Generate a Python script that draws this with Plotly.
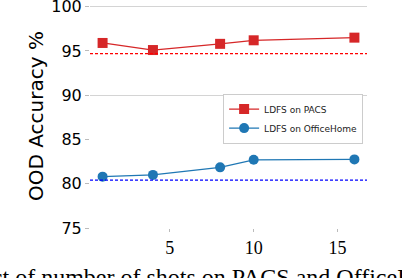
import plotly.graph_objects as go

shots = [1, 4, 8, 10, 16]
pacs_acc = [95.9, 95.1, 95.8, 96.2, 96.5]
office_acc = [80.8, 81.0, 81.85, 82.7, 82.75]
pacs_baseline = 94.7
office_baseline = 80.4
y_ticks = [75, 80, 85, 90, 95, 100]
x_ticks = [5, 10, 15]
caption = "Effect of number of shots on PACS and OfficeHome"

fig = go.Figure()
fig.add_trace(go.Scatter(
    x=shots, y=pacs_acc, mode="lines+markers", name="LDFS on PACS",
    line=dict(color="#d62728", width=1.2),
    marker=dict(symbol="square", size=10, color="#d62728")))
fig.add_trace(go.Scatter(
    x=shots, y=office_acc, mode="lines+markers", name="LDFS on OfficeHome",
    line=dict(color="#1f77b4", width=1.2),
    marker=dict(symbol="circle", size=10, color="#1f77b4")))
# invisible trace for grid axis
fig.add_trace(go.Scatter(x=[shots[0]], y=[pacs_acc[0]], yaxis="y2", showlegend=False,
                         mode="markers", marker=dict(opacity=0), hoverinfo="skip"))

fig.add_hline(y=pacs_baseline, line=dict(color="#ff0000", width=1.2, dash="3px,2px"))
fig.add_hline(y=office_baseline, line=dict(color="#0000ff", width=1.2, dash="3px,2px"))

fig.update_layout(
    width=402, height=278,
    margin=dict(l=90, r=35, t=4, b=50, autoexpand=False),
    paper_bgcolor="white", plot_bgcolor="white",
    showlegend=True,
    legend=dict(x=0.986, xanchor="right", y=0.6, yanchor="top",
                bgcolor="white", bordercolor="#cccccc", borderwidth=1,
                font=dict(family="DejaVu Sans", size=9, color="#222"),
                tracegroupgap=0, itemwidth=30),
    xaxis=dict(range=[0.25, 16.75], tickvals=x_ticks, showgrid=False, zeroline=False,
               showline=False, ticks="outside", ticklen=3, tickcolor="#bbbbbb",
               automargin=False, ticklabeloverflow="allow",
               tickfont=dict(family="Liberation Serif", size=18, color="black")),
    yaxis=dict(range=[75, 100.3], tickvals=y_ticks, showgrid=False, zeroline=False,
               showline=False, ticks="outside", ticklen=4, tickcolor="#bbbbbb",
               automargin=False, ticklabeloverflow="allow",
               tickfont=dict(family="DejaVu Sans", size=16, color="black"),
               title=dict(text="OOD Accuracy %", standoff=2,
                          font=dict(family="DejaVu Sans", size=20, color="black"))),
    yaxis2=dict(range=[75, 100.3], tickvals=[90, 100], overlaying="y", showgrid=True,
                gridcolor="#d4d4d4", gridwidth=1, showticklabels=False, zeroline=False,
                showline=False, ticks="", automargin=False),
    annotations=[dict(text=caption, xref="paper", yref="paper", x=-0.509, xanchor="left",
                      y=-0.15, yanchor="top", showarrow=False,
                      font=dict(family="Liberation Serif", size=24, color="black"))],
)

fig.write_html("out.html", config={"displayModeBar": False},
               post_script="document.body.style.margin='0';document.body.style.overflow='hidden';")
